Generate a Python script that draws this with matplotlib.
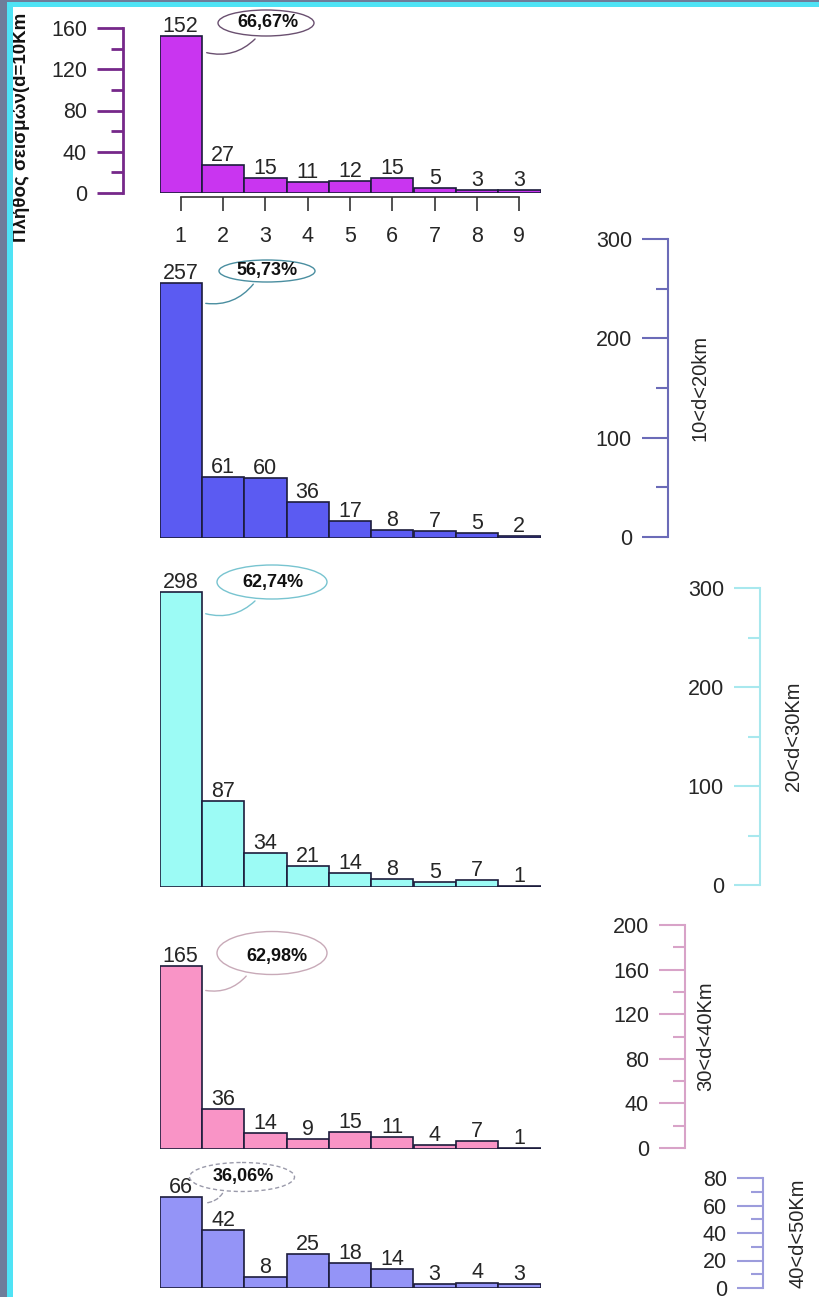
import matplotlib
matplotlib.use("Agg")
import matplotlib.pyplot as plt
from matplotlib.patches import Ellipse, FancyArrowPatch, Rectangle
from matplotlib.ticker import MultipleLocator
from matplotlib.transforms import offset_copy

plt.rcParams['font.family'] = ['Liberation Sans', 'DejaVu Sans']

# ---- data: earthquake counts per magnitude class, by focal depth band ----
magnitudes = [1, 2, 3, 4, 5, 6, 7, 8, 9]
counts_0_10 = [152, 27, 15, 11, 12, 15, 5, 3, 3]
counts_10_20 = [257, 61, 60, 36, 17, 8, 7, 5, 2]
counts_20_30 = [298, 87, 34, 21, 14, 8, 5, 7, 1]
counts_30_40 = [165, 36, 14, 9, 15, 11, 4, 7, 1]
counts_40_50 = [66, 42, 8, 25, 18, 14, 3, 4, 3]
share_labels = ['66,67%', '56,73%', '62,74%', '62,98%', '36,06%']
depth_labels = ['Πλήθος σεισμών(d=10Km', '10<d<20km', '20<d<30Km', '30<d<40Km', '40<d<50Km']
y_max = [160, 300, 300, 200, 80]
y_major = [40, 100, 100, 40, 20]
y_minor = [20, 50, 50, 20, 10]

series = [counts_0_10, counts_10_20, counts_20_30, counts_30_40, counts_40_50]

# ---- styling / layout (pixels) ----
W, H = 819, 1297
bar_colors = ['#c935f0', '#5b5bf2', '#9cfbf5', '#f994c6', '#9494f7']
axis_colors = ['#76288a', '#6b6bb8', '#a8e8ee', '#d8a3c8', '#9c9cdc']
ell_colors = ['#6a5070', '#4a8ea0', '#78c4d0', '#c8aab8', '#9a9aaa']
# bars: baseline y and y of the top of the scale
bar_base = [193, 538, 887, 1149, 1288]
bar_top = [28, 240, 590, 927, 1178]
# scale axis: x position, baseline y and top y
scale_x = [123, 668, 760, 685, 763]
scale_base = [193, 537, 885, 1148, 1288]
scale_top = [28, 239, 588, 925, 1178]
label_dx = [None, 32, 33, 21, 35]
# callout ellipses: centre, width, height; tail start/end
ell_geo = [((266, 23), 96, 26), ((267, 271), 96, 22), ((272, 582), 110, 34),
           ((272, 953), 110, 43), ((242, 1177), 105, 29)]
text_pos = [(268, 23), (267, 271), (273, 582), (277, 956), (243, 1177)]
tails = [((257, 37), (204, 52)), ((255, 282), (203, 303)), ((257, 599), (203, 613)),
         ((248, 974), (203, 990)), ((224, 1191), (203, 1203))]
BAR_X0, BAR_X1 = 159.5, 540.5
TEXT_C = '#262626'
NUM_SIZE = 15.5


def px_box(x0, y0, x1, y1):
    return [x0 / W, 1 - y1 / H, (x1 - x0) / W, (y1 - y0) / H]


fig = plt.figure(figsize=(W / 100, H / 100), dpi=100)
fig.patch.set_facecolor('white')

for i, vals in enumerate(series):
    # bar chart
    ax = fig.add_axes(px_box(BAR_X0, bar_top[i], BAR_X1, bar_base[i]))
    ax.set_xlim(0.5, 9.5)
    ax.set_ylim(0, y_max[i])
    ax.bar(magnitudes, vals, width=1.0, color=bar_colors[i],
           edgecolor='#1c1c3c', linewidth=1.2, zorder=3)
    for m, v in zip(magnitudes, vals):
        ax.annotate(str(v), xy=(m, v), xytext=(0, 4), textcoords='offset pixels',
                    ha='center', va='baseline', fontsize=NUM_SIZE, color=TEXT_C,
                    annotation_clip=False)
    for s in ax.spines.values():
        s.set_visible(False)
    ax.set_yticks([])
    if i == 0:
        sp = ax.spines['bottom']
        sp.set_visible(True)
        sp.set_position(('outward', 3))
        sp.set_bounds(1, 9)
        sp.set_color('#333333')
        sp.set_linewidth(1.2)
        ax.set_xticks(magnitudes)
        ax.set_xticklabels([str(m) for m in magnitudes])
        ax.tick_params(axis='x', direction='out', length=10, width=1.2,
                       color='#333333', pad=11, labelsize=NUM_SIZE, labelcolor=TEXT_C)
    else:
        ax.set_xticks([])
    ax.patch.set_alpha(0)

    # separate count scale
    sx = fig.add_axes(px_box(scale_x[i], scale_top[i], scale_x[i] + 1, scale_base[i]))
    sx.set_ylim(0, y_max[i])
    sx.set_xticks([])
    for k, s in sx.spines.items():
        s.set_visible(k == 'left')
    sx.spines['left'].set_color(axis_colors[i])
    lw = 2.0 if i == 0 else 1.5
    sx.spines['left'].set_linewidth(lw)
    sx.yaxis.set_major_locator(MultipleLocator(y_major[i]))
    sx.yaxis.set_minor_locator(MultipleLocator(y_minor[i]))
    sx.tick_params(axis='y', which='major', direction='out', length=18.5, width=lw,
                   color=axis_colors[i], pad=7.5, labelsize=NUM_SIZE, labelcolor=TEXT_C)
    sx.tick_params(axis='y', which='minor', direction='out', length=9, width=lw,
                   color=axis_colors[i])
    sx.patch.set_alpha(0)
    if i > 0:
        tr = offset_copy(sx.transAxes, fig=fig, x=label_dx[i], y=0, units='dots')
        sx.text(0, 0.5, depth_labels[i], transform=tr, rotation=90,
                ha='center', va='center', fontsize=14.5, color=TEXT_C)

fig.text(21 / W, 1 - 127 / H, depth_labels[0], rotation=90, ha='center',
         va='center', fontsize=13.5, fontweight='bold', color='#111111')

# overlay in pixel coordinates for callouts and the frame
ov = fig.add_axes([0, 0, 1, 1], zorder=10)
ov.set_xlim(0, W)
ov.set_ylim(H, 0)
ov.axis('off')
ov.patch.set_alpha(0)

for i in range(5):
    (cx, cy), ew, eh = ell_geo[i]
    ls = (0, (3, 2)) if i == 4 else '-'
    ov.add_patch(Ellipse((cx, cy), ew, eh, facecolor='white', edgecolor=ell_colors[i],
                         linewidth=1.0, linestyle=ls))
    a, b = tails[i]
    ov.add_patch(FancyArrowPatch(a, b, arrowstyle='-', connectionstyle='arc3,rad=-0.3',
                                 color=ell_colors[i], linewidth=1.0, linestyle=ls))
    ov.text(text_pos[i][0], text_pos[i][1], share_labels[i], ha='center', va='center',
            fontsize=13, fontweight='bold', color='#111111')

# window frame (left and top edges)
ov.add_patch(Rectangle((0, 0), 7, H, facecolor='#6e7d9a', edgecolor='none'))
ov.add_patch(Rectangle((7, 0), 6, H, facecolor='#4fe3f5', edgecolor='none'))
ov.add_patch(Rectangle((0, 0), W, 2, facecolor='#6e7d9a', edgecolor='none'))
ov.add_patch(Rectangle((7, 2), W - 7, 5, facecolor='#4fe3f5', edgecolor='none'))

fig.savefig('out.png', dpi=100)
